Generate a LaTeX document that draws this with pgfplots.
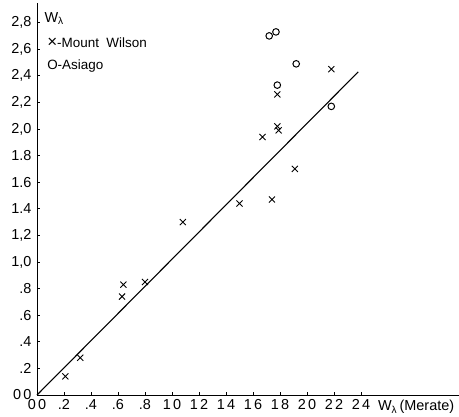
\documentclass[border=0pt]{standalone}
\usepackage{fontspec}
\setmainfont{Liberation Sans}
\usepackage{pgfplots}
\pgfplotsset{compat=1.18}
\begin{document}
\begin{tikzpicture}
\begin{axis}[
  x=135bp, y=133bp,
  xmin=0, xmax=3.126, ymin=0, ymax=2.95,
  axis lines=left,
  axis line style={-, line width=1pt},
  xtick={0,0.2,0.4,0.6,0.8,1.0,1.2,1.4,1.6,1.8,2.0,2.2,2.4},
  xticklabels={0\,0,.2,.4,.6,.8,1\,0,1\,2,1\,4,1\,6,1\,8,2\,0,2\,2,2\,4},
  ytick={0,0.2,0.4,0.6,0.8,1.0,1.2,1.4,1.6,1.8,2.0,2.2,2.4,2.6,2.8},
  yticklabels={0\,0,.2,.4,.6,.8,{1,0},{1,2},1.4,1.6,1.8,{2,0},{2,2},{2,4},{2,6},{2,8}},
  tick align=inside, major tick length=3bp,
  tick style={black, line width=0.8pt},
  ticklabel style={font=\fontsize{14.5}{15}\selectfont},
  xticklabel style={yshift=-1bp},
  yticklabel style={xshift=-2bp},
  /pgf/number format/assume math mode=true,
  clip=false,
]
% Mount Wilson
\addplot[only marks, mark=x, mark size=4.3bp, line width=0.9pt] coordinates {
  (0.21,0.14)(0.32,0.28)(0.63,0.74)(0.64,0.83)(0.80,0.85)(1.08,1.30)
  (1.50,1.44)(1.74,1.47)(1.67,1.94)(1.78,2.02)(1.79,1.99)(1.78,2.26)
  (1.91,1.70)(2.18,2.45)
};
% Asiago
\addplot[only marks, mark=o, mark size=3.3bp, line width=1pt] coordinates {
  (1.72,2.70)(1.77,2.73)(1.92,2.49)(1.78,2.33)(2.18,2.17)
};
% fitted line
\addplot[line width=1.1pt] coordinates {(0,0)(2.38,2.43)};
\coordinate (o) at (axis cs:0,0);
\node[anchor=west, font=\fontsize{14.5}{15}\selectfont] at (axis cs:0.03,2.83) {W\textsubscript{λ}};
\node[anchor=west, font=\fontsize{13.5}{14}\selectfont] at (axis cs:0.05,2.65) {{\fontsize{17}{17}\selectfont ×}-Mount\ \ Wilson};
\node[anchor=west, font=\fontsize{13.5}{14}\selectfont] at (axis cs:0.05,2.47) {O-Asiago};
\node[anchor=west, font=\fontsize{14.5}{15}\selectfont] at (axis cs:2.50,-0.09) {W\textsubscript{λ}\,(Merate)};
\end{axis}
\pgfresetboundingbox
\path (o) ++(-37bp,-22bp) rectangle ++(459bp,417bp);
\end{tikzpicture}
\end{document}
